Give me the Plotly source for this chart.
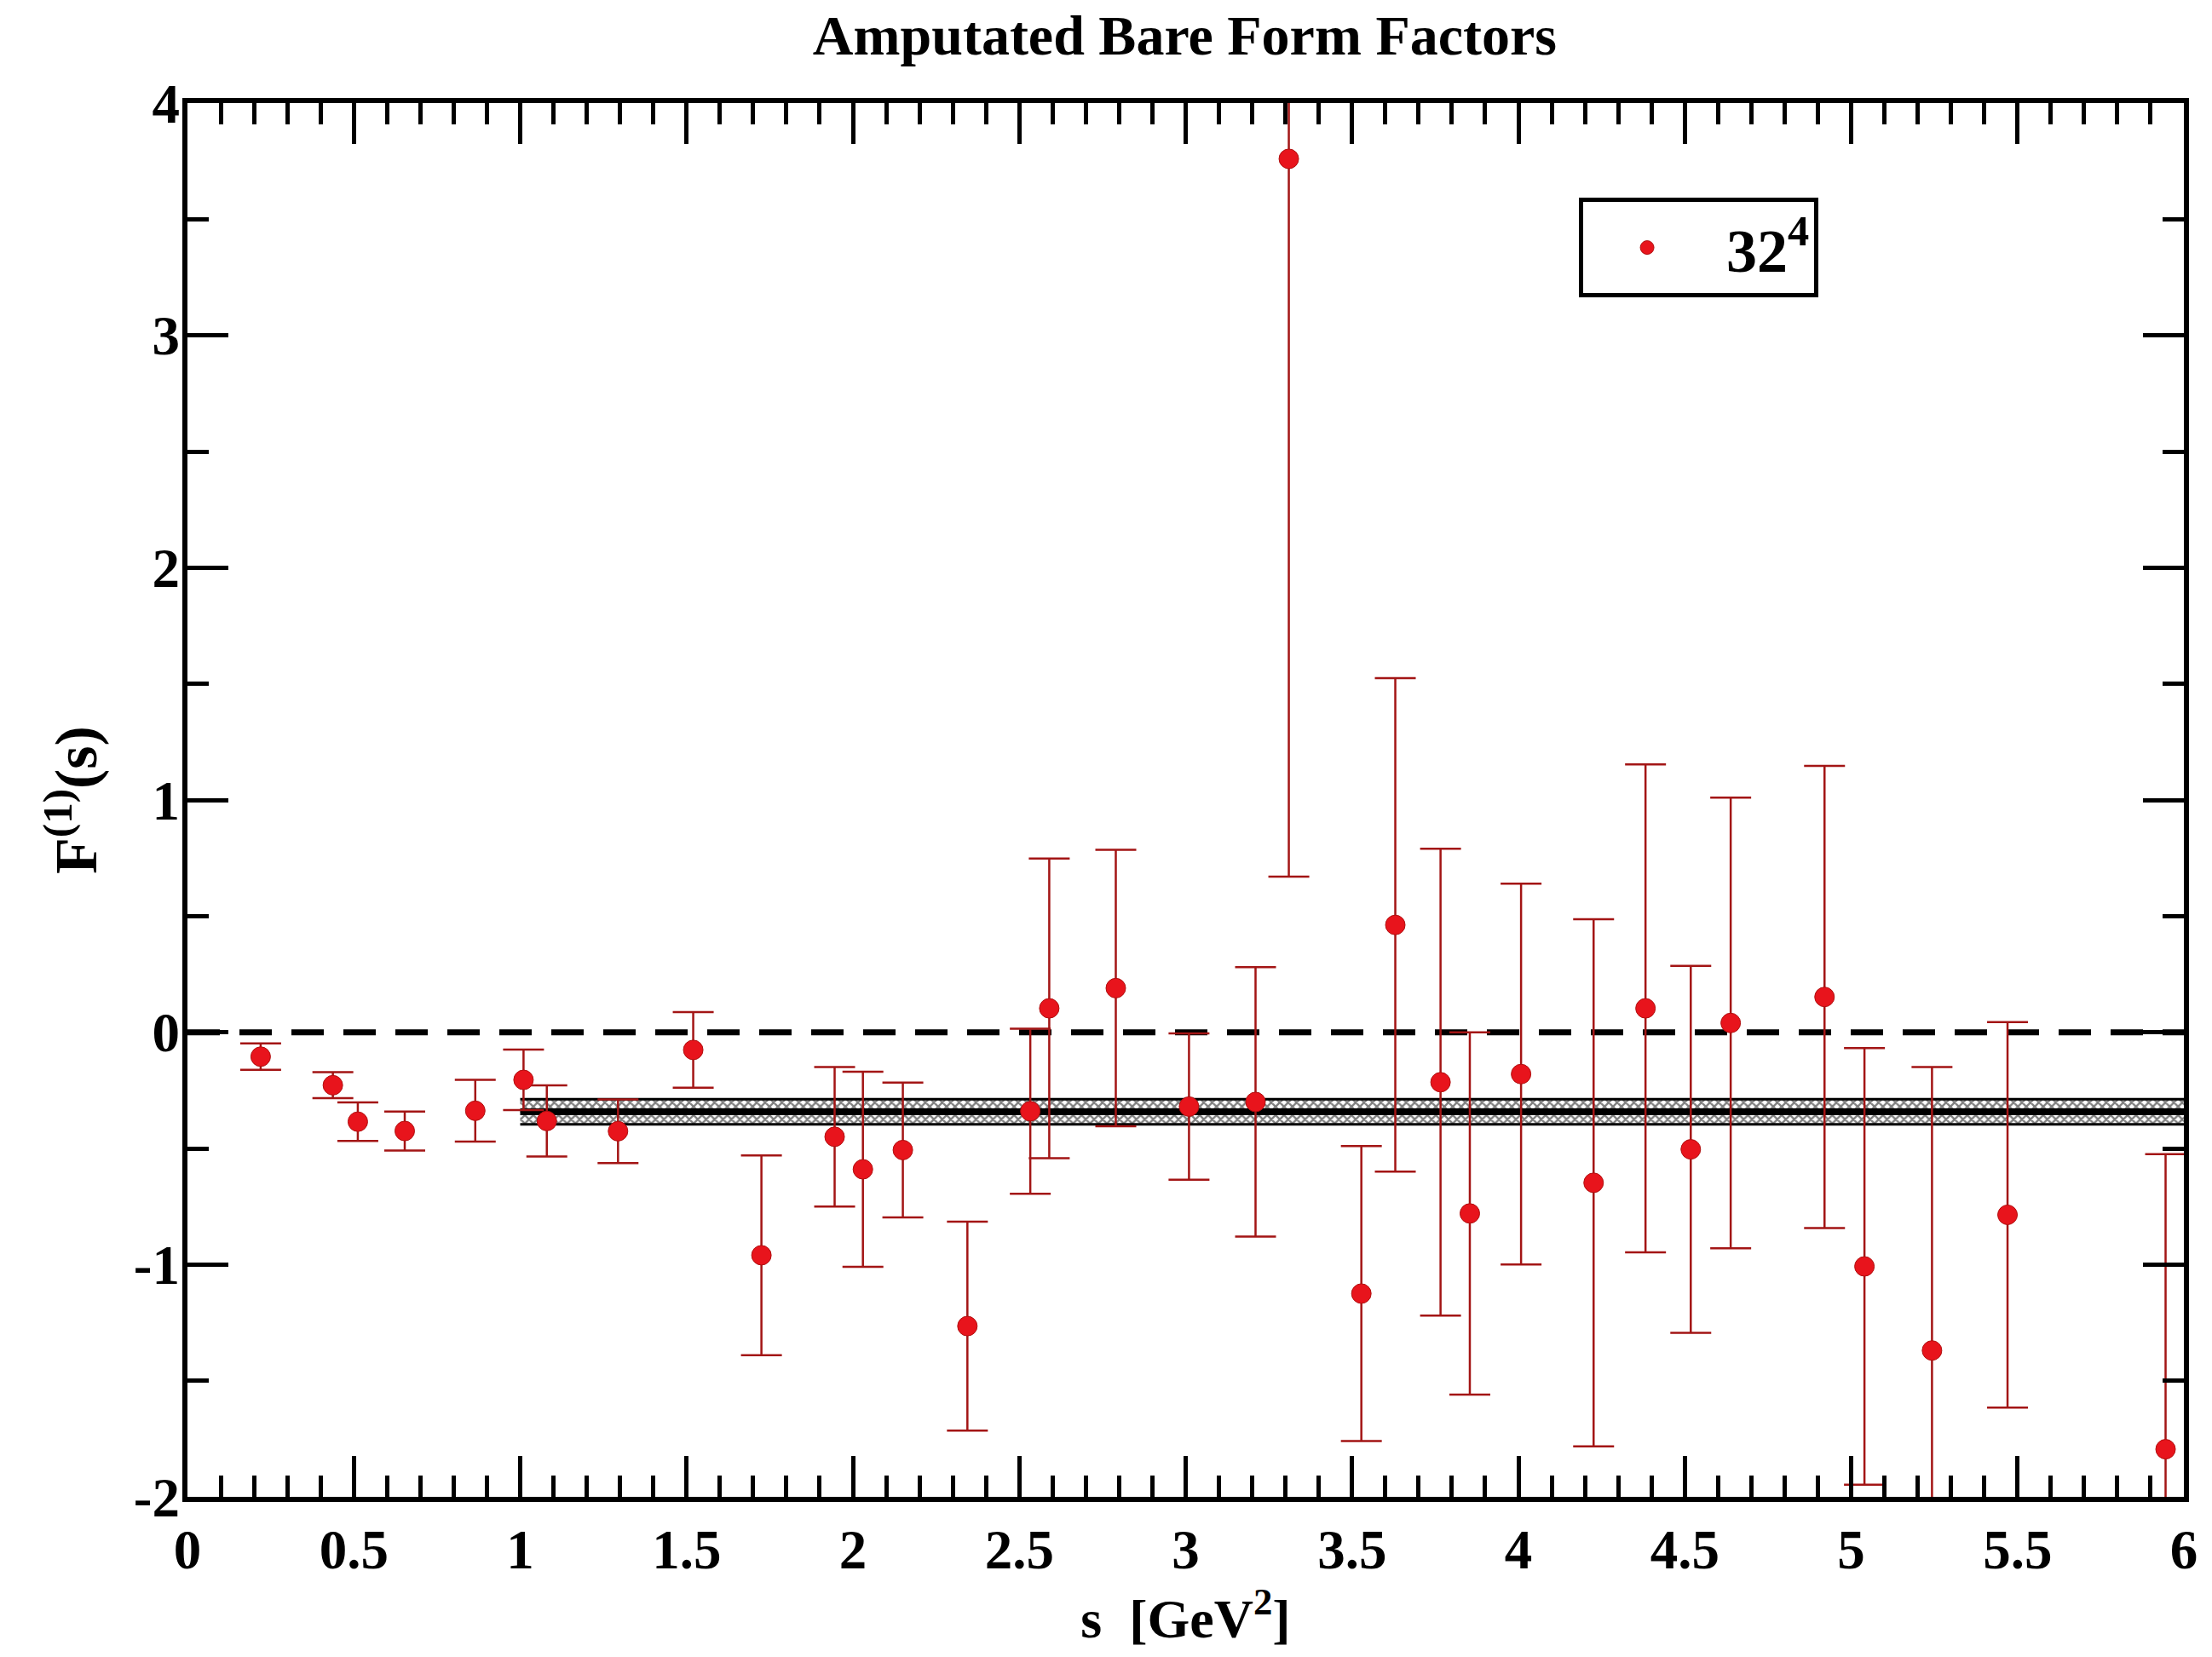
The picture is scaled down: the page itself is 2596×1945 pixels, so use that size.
import plotly.graph_objects as go

# Amputated bare form factor F^(1)(s) on the 32^4 lattice
s_vals = [0.22, 0.437, 0.512, 0.653, 0.865, 1.01, 1.08, 1.294, 1.52, 1.725,
          1.945, 2.03, 2.15, 2.344, 2.533, 2.59, 2.79, 3.01, 3.21, 3.31,
          3.528, 3.63, 3.766, 3.854, 4.008, 4.226, 4.382, 4.518, 4.638, 4.92,
          5.04, 5.243, 5.47, 5.945]
f_vals = [-0.105, -0.228, -0.385, -0.425, -0.338, -0.205, -0.382, -0.426, -0.076, -0.96,
          -0.45, -0.59, -0.507, -1.265, -0.34, 0.103, 0.19, -0.32, -0.30, 3.76,
          -1.125, 0.462, -0.215, -0.78, -0.18, -0.648, 0.103, -0.504, 0.04, 0.152,
          -1.008, -1.37, -0.786, -1.795]
f_errs = [0.057, 0.056, 0.083, 0.084, 0.133, 0.13, 0.153, 0.137, 0.163, 0.43,
          0.30, 0.42, 0.29, 0.45, 0.355, 0.645, 0.595, 0.315, 0.58, 3.09,
          0.635, 1.062, 1.005, 0.78, 0.82, 1.135, 1.05, 0.79, 0.97, 0.995,
          0.94, 1.22, 0.83, 1.27]

# constant fit over s >= 1 GeV^2 with its error band
fit_range = [1.0, 6.0]
fit_value = -0.342
fit_error = 0.054

x_ticks = [0, 0.5, 1, 1.5, 2, 2.5, 3, 3.5, 4, 4.5, 5, 5.5, 6]
x_tick_text = ["0", "0.5", "1", "1.5", "2", "2.5", "3", "3.5", "4", "4.5", "5", "5.5", "6"]
y_ticks = [-2, -1, 0, 1, 2, 3, 4]
y_tick_text = ["-2", "-1", "0", "1", "2", "3", "4"]

FONT = "Liberation Serif"
RED = "#e8141c"
BAR_RED = "#a31515"

fig = go.Figure()

# fit band (patterned fill between the two error lines)
band_lo = [fit_value - fit_error] * 2
band_hi = [fit_value + fit_error] * 2
fig.add_trace(go.Scatter(x=fit_range, y=band_lo, mode="lines",
                         line=dict(color="black", width=3), showlegend=False,
                         hoverinfo="skip"))
fig.add_trace(go.Scatter(x=fit_range, y=band_hi, mode="lines",
                         line=dict(color="black", width=3), fill="tonexty",
                         fillcolor="white",
                         fillpattern=dict(shape="x", size=7, solidity=0.55,
                                          fgcolor="black", bgcolor="white"),
                         showlegend=False, hoverinfo="skip"))
fig.add_trace(go.Scatter(x=fit_range, y=[fit_value] * 2, mode="lines",
                         line=dict(color="black", width=8), showlegend=False,
                         hoverinfo="skip"))

# zero reference line
fig.add_trace(go.Scatter(x=[0, 6], y=[0, 0], mode="lines",
                         line=dict(color="black", width=7, dash="38px,23px"),
                         showlegend=False, hoverinfo="skip"))

# data points with error bars
fig.add_trace(go.Scatter(
    x=s_vals, y=f_vals, mode="markers", name="&nbsp;32<sup>4</sup>",
    marker=dict(symbol="circle", size=23, color=RED,
                line=dict(color="#b01010", width=1)),
    error_y=dict(type="data", array=f_errs, visible=True,
                 color=BAR_RED, thickness=2.5, width=24),
))

axis_common = dict(
    showline=True, linecolor="black", linewidth=6, mirror="allticks",
    ticks="inside", tickcolor="black", tickwidth=5, ticklen=48,
    showgrid=False, zeroline=False,
    tickfont=dict(family=FONT, size=65, color="black", weight="bold"),
)

fig.update_xaxes(
    range=[0, 6], tickmode="array", tickvals=x_ticks, ticktext=x_tick_text,
    minor=dict(dtick=0.1, ticklen=25, tickwidth=5, tickcolor="black", ticks="inside"),
    title=dict(text="s  [GeV<sup>2</sup>]", standoff=14,
               font=dict(family=FONT, size=64, color="black", weight="bold")),
    **axis_common,
)
fig.update_yaxes(
    range=[-2, 4], tickmode="array", tickvals=y_ticks, ticktext=y_tick_text,
    minor=dict(dtick=0.5, ticklen=25, tickwidth=5, tickcolor="black", ticks="inside"),
    ticklabelstandoff=-10,
    title=dict(text="F<sup>(1)</sup>(s)", standoff=22,
               font=dict(family=FONT, size=70, color="black", weight="bold")),
    **axis_common,
)

fig.update_layout(
    width=2596, height=1945,
    margin=dict(l=220, r=33, t=121, b=188),
    paper_bgcolor="white", plot_bgcolor="white",
    title=dict(text="Amputated Bare Form Factors", x=0.5356, xanchor="center",
               y=0.991, yanchor="top",
               font=dict(family=FONT, size=66, color="black", weight="bold")),
    showlegend=True,
    legend=dict(x=0.697, y=0.932, xanchor="left", yanchor="top",
                bgcolor="white", bordercolor="black", borderwidth=5,
                font=dict(family=FONT, size=72, color="black", weight="bold"),
                itemwidth=140),
)

fig.write_html("out.html")
